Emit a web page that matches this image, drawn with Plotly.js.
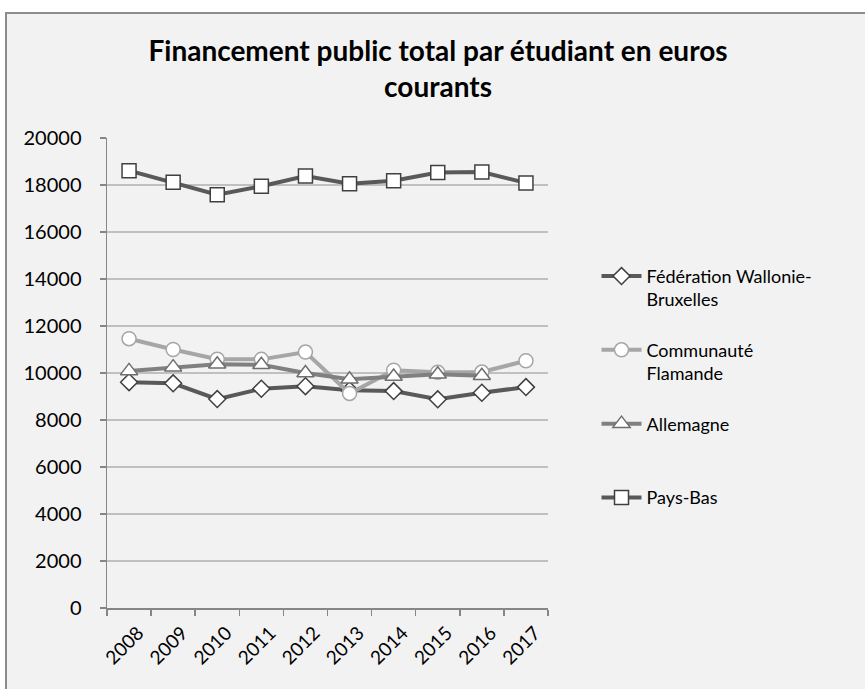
<!DOCTYPE html>
<html>
<head>
<meta charset="utf-8">
<script src="https://cdn.plot.ly/plotly-3.0.1.min.js"></script>
<style>
  html, body { margin: 0; padding: 0; background: #ffffff; }
  #bg { position: absolute; left: 5px; top: 12px; width: 860px; height: 677px;
        background: #f2f2f2; border-left: 2px solid #8c8c8c; border-top: 2px solid #8c8c8c;
        box-sizing: border-box; }
  #chart { position: absolute; left: 0; top: 0; width: 865px; height: 689px; }
</style>
</head>
<body>
<div id="bg"></div>
<div id="chart"></div>
<script>
// Data
const years = ["2008", "2009", "2010", "2011", "2012", "2013", "2014", "2015", "2016", "2017"];
const wallonieBruxelles = [9610, 9560, 8890, 9330, 9440, 9270, 9230, 8880, 9160, 9400];
const flamande = [11460, 11000, 10590, 10580, 10890, 9130, 10120, 10030, 10040, 10520];
const allemagne = [10090, 10250, 10370, 10350, 10000, 9730, 9850, 9950, 9880, null];
const paysBas = [18610, 18120, 17590, 17950, 18380, 18050, 18180, 18530, 18550, 18090];
const seriesNames = ["Fédération Wallonie-<br>Bruxelles", "Communauté<br>Flamande", "Allemagne<br>&nbsp;", "Pays-Bas"];
const titleText = "Financement public total par étudiant en euros<br>courants";

const FONT = "Lato, 'Open Sans', sans-serif";

function mk(y, name, lineColor, sym, size, mLineColor, group) {
  return {
    x: years, y: y, name: name, type: "scatter", mode: "lines+markers",
    legendgroup: group,
    line: { color: lineColor, width: 4 },
    marker: { symbol: sym, size: size, color: "#ffffff", line: { color: mLineColor, width: 1.5 } },
    connectgaps: false
  };
}

const data = [
  mk(wallonieBruxelles, seriesNames[0], "#595959", "diamond", 13, "#404040", "g1"),
  mk(flamande, seriesNames[1], "#a6a6a6", "circle", 14, "#a6a6a6", "g2"),
  mk(allemagne, seriesNames[2], "#808080", "triangle-up", 15, "#6e6e6e", "g3"),
  mk(paysBas, seriesNames[3], "#595959", "square", 14, "#404040", "g4")
];

const layout = {
  width: 865, height: 689,
  paper_bgcolor: "rgba(0,0,0,0)", plot_bgcolor: "rgba(0,0,0,0)",
  margin: { l: 107, r: 317, t: 138, b: 81, pad: 0 },
  font: { family: FONT, size: 20, color: "#000000" },
  title: {
    text: titleText,
    font: { family: FONT, size: 28, color: "#000000", weight: "bold" },
    xref: "container", x: 0.5064, xanchor: "center",
    yref: "container", y: 0.912, yanchor: "middle"
  },
  xaxis: {
    type: "category", range: [-0.5, 9.5],
    showgrid: false, zeroline: false,
    showline: true, linecolor: "#868686", linewidth: 1.5,
    ticks: "outside", tickson: "boundaries", ticklen: 6, tickcolor: "#868686", tickwidth: 1.5,
    tickangle: -45, ticklabelstandoff: 5, ticklabelshift: 9,
    tickfont: { family: FONT, size: 19, color: "#000000" }
  },
  yaxis: {
    range: [0, 20000], dtick: 2000, tick0: 0, tickformat: "d",
    showgrid: true, gridcolor: "#c0c0c0", gridwidth: 1.5,
    zeroline: false,
    showline: true, linecolor: "#868686", linewidth: 1.5,
    ticks: "outside", ticklen: 6, tickcolor: "#868686", tickwidth: 1.5,
    ticklabelstandoff: 14,
    tickfont: { family: FONT, size: 20, color: "#000000" }
  },
  showlegend: true,
  legend: {
    x: 1.110, xanchor: "left", y: 0.745, yanchor: "top",
    valign: "top", tracegroupgap: 24, itemwidth: 40,
    font: { family: FONT, size: 18, color: "#000000" },
    bgcolor: "rgba(0,0,0,0)"
  }
};

Plotly.newPlot("chart", data, layout, { displayModeBar: false, staticPlot: true });
</script>
</body>
</html>
